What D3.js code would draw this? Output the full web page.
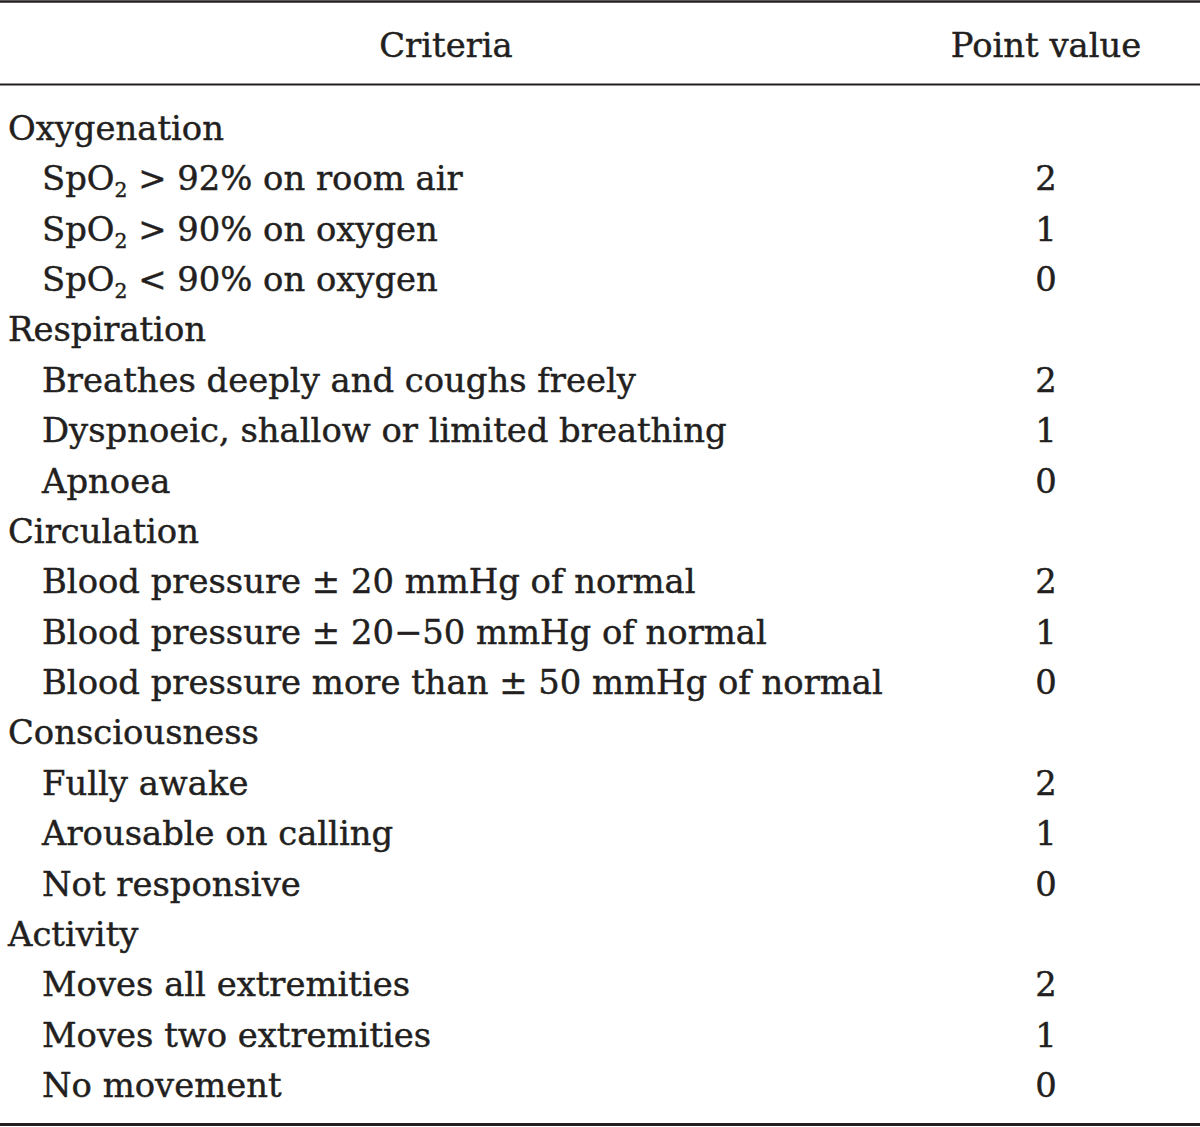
<!DOCTYPE html>
<html><head><meta charset="utf-8">
<script src="https://cdn.jsdelivr.net/npm/d3@7"></script>
<style>body{margin:0;background:#fff}svg{display:block}</style>
</head><body>
<svg id="c" width="1200" height="1127"></svg>
<script>
const headers = ["Criteria", "Point value"];
const groups = ["Oxygenation", "Respiration", "Circulation", "Consciousness", "Activity"];
const items = [
  ["SpO|2| > 92% on room air", "SpO|2| > 90% on oxygen", "SpO|2| < 90% on oxygen"],
  ["Breathes deeply and coughs freely", "Dyspnoeic, shallow or limited breathing", "Apnoea"],
  ["Blood pressure ± 20 mmHg of normal", "Blood pressure ± 20\u221250 mmHg of normal", "Blood pressure more than ± 50 mmHg of normal"],
  ["Fully awake", "Arousable on calling", "Not responsive"],
  ["Moves all extremities", "Moves two extremities", "No movement"]
];
const points = [[2,1,0],[2,1,0],[2,1,0],[2,1,0],[2,1,0]];

const rows = [];
groups.forEach((g, i) => {
  rows.push({text: g, level: 0, value: null});
  items[i].forEach((t, j) => rows.push({text: t, level: 1, value: points[i][j]}));
});

const W = 1200, H = 1127;
const svg = d3.select("#c");
const font = "'DejaVu Serif', 'Liberation Serif', serif";
const color = "#231f20";

const y = d3.scaleLinear().domain([0, rows.length - 1]).range([140, 1097]);

// rules
svg.append("line").attr("x1",0).attr("x2",W).attr("y1",1.5).attr("y2",1.5).attr("stroke",color).attr("stroke-width",2.5);
svg.append("line").attr("x1",0).attr("x2",W).attr("y1",84.5).attr("y2",84.5).attr("stroke",color).attr("stroke-width",2);
svg.append("line").attr("x1",0).attr("x2",W).attr("y1",1124.5).attr("y2",1124.5).attr("stroke",color).attr("stroke-width",3);

const g = svg.append("g").attr("font-family", font).attr("fill", color)
  .attr("stroke", color).attr("stroke-width", 0.45);

let fs = 34;
g.selectAll(".h").data(headers).join("text")
  .attr("class","h")
  .attr("x", (d,i) => i === 0 ? 446 : 1046)
  .attr("y", 57)
  .attr("text-anchor","middle")
  .text(d => d);

const rowText = g.selectAll(".r").data(rows).join("text")
  .attr("class","r")
  .attr("x", d => d.level === 0 ? 8 : 42)
  .attr("y", (d,i) => y(i));

rowText.each(function(d){
  const el = d3.select(this);
  const parts = d.text.split("|");
  if (parts.length === 3) {
    el.append("tspan").text(parts[0]);
    el.append("tspan").attr("class","sub").attr("dy", 7).text(parts[1]);
    el.append("tspan").attr("dy", -7).text(parts[2]);
  } else {
    el.text(d.text);
  }
});

g.selectAll(".v").data(rows.filter(d => d.value !== null))
  .join("text").attr("class","v")
  .attr("x", 1046)
  .attr("y", d => y(rows.indexOf(d)))
  .attr("text-anchor","middle")
  .text(d => d.value);

function applySize(s){
  g.selectAll("text").attr("font-size", s);
  g.selectAll(".sub").attr("font-size", s*0.6);
}
applySize(fs);
// fit the longest line to the reference width (≈841 px)
const longest = rowText.filter(d => d.text.startsWith("Blood pressure more")).node();
const w = longest.getComputedTextLength();
fs = fs * 841 / w;
applySize(fs);
</script>
</body></html>
